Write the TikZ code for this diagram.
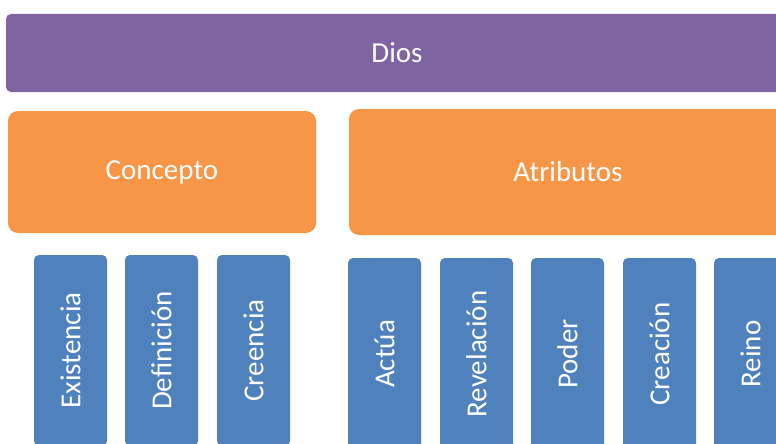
\documentclass[tikz,border=0pt]{standalone}
\usepackage{fontspec}
\setmainfont{Carlito}
\usepackage{tikz}

\definecolor{diospurple}{HTML}{8064A2}
\definecolor{groporange}{HTML}{F79646}
\definecolor{itemblue}{HTML}{4F81BD}

\begin{document}
\begin{tikzpicture}
  [x=1pt,y=-1pt,every node/.style={text=white,inner sep=0pt,font=\fontsize{29}{35}\selectfont},
   topbox/.style={fill=diospurple,rounded corners=5pt,minimum width=782pt,minimum height=78pt},
   groupbox/.style={fill=groporange,rounded corners=10pt},
   itembox/.style={fill=itemblue,rounded corners=5pt,rotate=90,minimum height=73pt}]
  \clip (0,0) rectangle (776,444);
  \node [topbox] (dios) at (397,53) {Dios};
  \node [groupbox,minimum width=308pt,minimum height=122pt] (concepto) at (162,172) {Concepto};
  \node [groupbox,minimum width=438pt,minimum height=126pt] (atributos) at (568,172) {Atributos};

  \foreach \name/\x/\txt in {ex/70.5/Existencia,def/161.5/Definición,cre/253.5/Creencia}
    \node [itembox,minimum width=191pt] (\name) at (\x,350.5) {\txt};
  \foreach \name/\x/\txt in {act/384.5/Actúa,rev/476.5/Revelación,pod/567.5/Poder,crea/659.5/Creación,rei/750.5/Reino}
    \node [itembox,minimum width=192pt] (\name) at (\x,354) {\txt};

\end{tikzpicture}
\end{document}
